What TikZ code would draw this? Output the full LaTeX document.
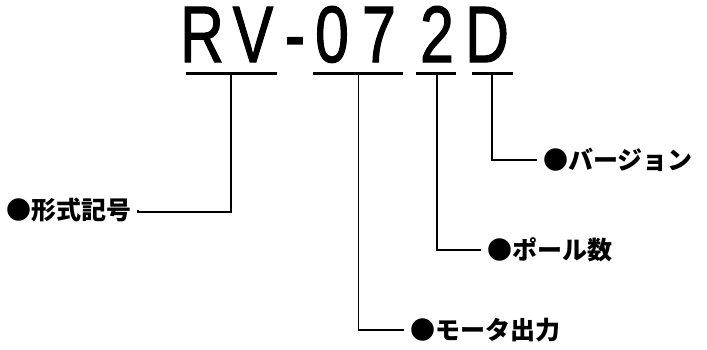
\documentclass[tikz,border=0pt]{standalone}
\usepackage{fontspec}
\setmainfont{Liberation Sans}
\newfontfamily\codefont[FakeBold=1.6]{Liberation Sans}
\newfontfamily\jpfont{Noto Sans CJK JP}
\tikzset{
  glyph/.style={anchor=base, inner sep=0pt, font=\codefont\fontsize{80}{80}\selectfont},
  uline/.style={line width=3pt},
  lead/.style={line width=1.6pt},
  part/.style={inner ysep=2pt, inner xsep=6pt, font=\jpfont\bfseries\fontsize{25}{25}\selectfont}
}
\newcommand{\narrow}[1]{\scalebox{0.76}[1]{#1}}
\begin{document}
\begin{tikzpicture}[x=1pt,y=-1pt]
\useasboundingbox (0,0) rectangle (707,349);
% model code
\node[glyph] (cR) at (202,62) {\narrow{R}};
\node[glyph] (cV) at (253,62) {\narrow{V}};
\node[glyph] (cH) at (295,62) {\narrow{-}};
\node[glyph] (c0) at (332,62) {\narrow{0}};
\node[glyph] (c7) at (379,62) {\narrow{7}};
\node[glyph] (c2) at (437,62) {\narrow{2}};
\node[glyph] (cD) at (487,62) {\narrow{D}};
% underlines
\draw[uline] (186,73) -- (277,73);
\draw[uline] (313,73) -- (403,73);
\draw[uline] (416,73) -- (456,73);
\draw[uline] (472,73) -- (513,73);
\coordinate (uRV) at (231,73);
\coordinate (uOut) at (358.5,73);
\coordinate (uPole) at (437,73);
\coordinate (uVer) at (492,73);
% labels
\node[part, anchor=east] (kigo) at (138,210) {●形式記号};
\node[part, anchor=west] (ver) at (537,160) {●バージョン};
\node[part, anchor=west] (pole) at (481,250) {●ポール数};
\node[part, anchor=west] (out) at (404,330) {●モータ出力};
% leaders
\draw[lead] (uRV) -- ++(0,139) -| (kigo.east);
\draw[lead] (uVer) |- (ver.west);
\draw[lead] (uPole) |- (pole.west);
\draw[lead] (uOut) |- (out.west);
\end{tikzpicture}
\end{document}
